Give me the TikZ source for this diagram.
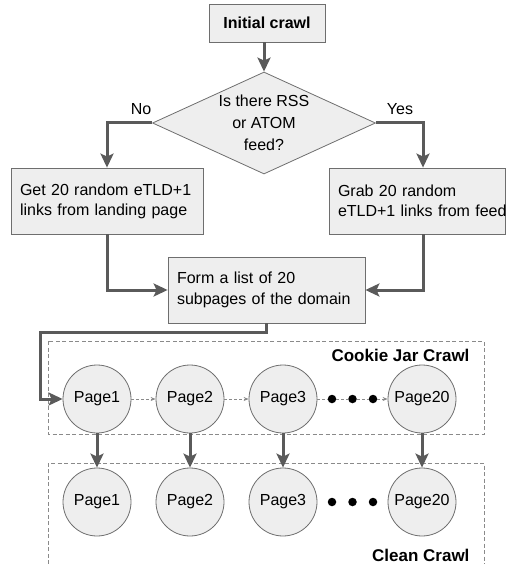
\documentclass[tikz,border=0pt]{standalone}
\usepackage{fontspec}
\setmainfont{Liberation Sans}
\usetikzlibrary{arrows.meta,shapes.geometric,calc}
\definecolor{boxfill}{HTML}{EEEEEE}
\definecolor{boxline}{HTML}{6E6E6E}
\definecolor{arrcol}{HTML}{5A5A5A}
\definecolor{dashcol}{HTML}{8A8A8A}
\tikzset{
  base/.style={font=\fontsize{16}{20}\selectfont},
  box/.style={base, draw=boxline, fill=boxfill, line width=0.8pt, inner xsep=9pt, inner ysep=0pt, minimum height=66pt, align=left, anchor=center},
  pagec/.style={base, circle, draw=boxline, fill=boxfill, line width=0.8pt, minimum size=68pt, inner sep=0pt},
  arr/.style={draw=arrcol, line width=3pt, -{Stealth[length=14pt,width=13pt,inset=3pt]}},
  conn/.style={draw=arrcol, line width=3pt},
  dasharr/.style={draw=dashcol, line width=0.8pt, dash pattern=on 3pt off 2pt, -{Stealth[length=5pt,width=4pt]}},
  dashline/.style={draw=dashcol, line width=0.8pt, dash pattern=on 3pt off 2pt},
  dot/.style={circle, fill=black, inner sep=0pt, minimum size=8.5pt},
  frame/.style={draw=dashcol, line width=0.8pt, dash pattern=on 4pt off 2.5pt},
  blabel/.style={font=\fontsize{17}{20}\selectfont\bfseries, anchor=east},
}
\begin{document}
\begin{tikzpicture}[x=1pt,y=-1pt]
\useasboundingbox (0,0) rectangle (506,564);
% frames
\draw[frame] (48,341) rectangle (484,434);
\draw[frame] (48,564) -- (48,463) -- (484,463) -- (484,564);
\node[blabel] (cj) at (473,355.5) {Cookie Jar Crawl};
\node[blabel] (cc) at (473,555) {Clean Crawl};
% top flow
\node[base, draw=boxline, fill=boxfill, line width=0.8pt, minimum width=116pt, minimum height=38pt, inner sep=0pt, font=\fontsize{16}{20}\selectfont\bfseries] (init) at (267,23) {Initial crawl};
\node[diamond, draw=boxline, fill=boxfill, line width=0.8pt, minimum width=223pt, minimum height=102pt, inner sep=0pt] (dia) at (264,123) {};
\node[base, align=center, font=\fontsize{16}{22}\selectfont] (diat) at (264,123) {Is there RSS\\or ATOM\\feed?};
\node[box, minimum width=192pt, text width=174pt] (left) at (107,201) {\mbox{Get 20 random eTLD+1}\\\mbox{links from landing page}};
\node[box, minimum width=176pt, text width=158pt] (right) at (417,201) {\mbox{Grab 20 random}\\\mbox{eTLD+1 links from feed}};
\node[box, minimum width=197pt, text width=179pt, font=\fontsize{16}{21}\selectfont] (mid) at (266.5,290) {\mbox{Form a list of 20}\\\mbox{subpages of the domain}};
\node[base, anchor=center] (no) at (141,109) {No};
\node[base, anchor=center] (yes) at (400,109) {Yes};
\draw[arr] (init.south -| dia.north) -- (dia.north);
\draw[arr] (dia.west) -| (left.north);
\draw[arr] (dia.east) -| ([xshift=6pt]right.north);
\draw[arr] (left.south) |- (mid.west);
\draw[arr] ([xshift=6pt]right.south) |- (mid.east);
% pages row 1
\node[pagec] (p1) at (97,399) {Page1};
\node[pagec] (p2) at (190,399) {Page2};
\node[pagec] (p3) at (283,399) {Page3};
\node[pagec] (p20) at (422,399) {Page20};
\node[dot] (a1) at (332,399) {};
\node[dot] (a2) at (352.5,399) {};
\node[dot] (a3) at (373,399) {};
\draw[arr] (mid.south) -- ++(0,9) coordinate (bend) -| ($(p1.west)+(-22,0)$) -- (p1.west);
\draw[dasharr] (p1) -- (p2);
\draw[dasharr] (p2) -- (p3);
\draw[dashline] (p3) -- (a1) -- (a2) -- (a3);
\draw[dasharr] (a3) -- (p20);
% pages row 2
\node[pagec] (q1) at (97,502) {Page1};
\node[pagec] (q2) at (190,502) {Page2};
\node[pagec] (q3) at (283,502) {Page3};
\node[pagec] (q20) at (422,502) {Page20};
\node[dot] (b1) at (332,502) {};
\node[dot] (b2) at (352.5,502) {};
\node[dot] (b3) at (373,502) {};
\draw[arr] (p1) -- (q1);
\draw[arr] (p2) -- (q2);
\draw[arr] (p3) -- (q3);
\draw[arr] (p20) -- (q20);
\end{tikzpicture}
\end{document}
